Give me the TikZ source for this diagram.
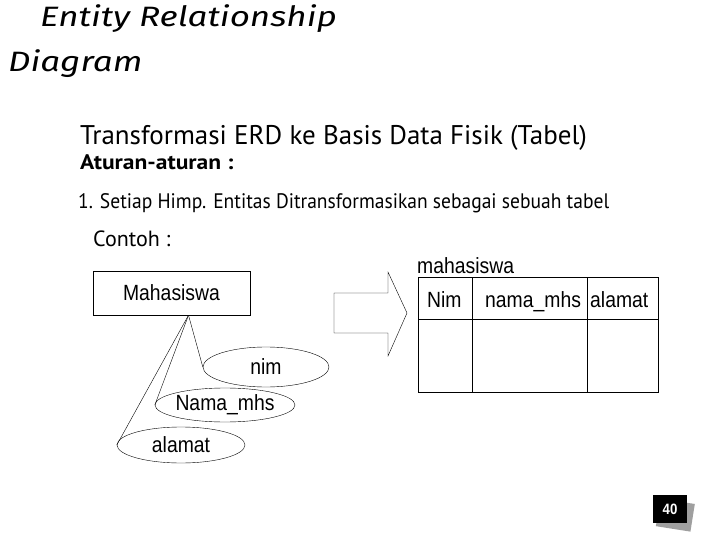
\documentclass[tikz,border=0pt]{standalone}
\usepackage{fontspec}
\setmainfont{PT Sans}
\newfontfamily\titlefont[FakeStretch=1.25]{Fira Sans}
\newfontfamily\labelfont[FakeStretch=0.88]{Liberation Sans}
\usetikzlibrary{shapes.geometric}

\begin{document}
\begin{tikzpicture}
    [x=1pt,y=-1pt,line join=miter,
     lbl/.style={inner sep=0pt,font=\labelfont\fontsize{22}{24}\selectfont},
     entity/.style={lbl,draw,minimum width=157pt,minimum height=44pt},
     attrib/.style={lbl,draw,ellipse,inner sep=0pt},
     txt/.style={inner sep=0pt,anchor=base west}]

    \useasboundingbox (0,0) rectangle (720,540);

    % title and text
    \node[txt,font=\titlefont\itshape\fontsize{28}{32}\selectfont] (t1) at (40,27) {Entity Relationship};
    \node[txt,font=\titlefont\itshape\fontsize{28}{32}\selectfont] (t2) at (8,72) {Diagram};
    \node[txt,font=\fontsize{27}{30}\selectfont] (sub) at (80,145) {Transformasi ERD ke Basis Data Fisik (Tabel)};
    \node[txt,font=\bfseries\addfontfeatures{FakeStretch=1.12}\fontsize{21}{23}\selectfont] (rules) at (80,170) {Aturan-aturan :};
    \node[txt,font=\addfontfeatures{FakeStretch=0.93}\fontsize{21}{24}\selectfont] (rule1) at (78,208) {1. Setiap Himp. Entitas Ditransformasikan sebagai sebuah tabel};
    \node[txt,font=\fontsize{22}{25}\selectfont] (ex) at (93,247) {Contoh :};

    % ER side
    \node[entity] (ent) at (171.5,293) {Mahasiswa};
    \node[attrib,minimum width=126pt,minimum height=40pt] (nim) at (266,367) {nim};
    \node[attrib,minimum width=120pt,minimum height=34pt] (nama) at (225,405) {Nama\_mhs};
    \node[attrib,minimum width=128pt,minimum height=36pt] (alamat) at (181,445) {alamat};
    \coordinate (root) at ([xshift=17pt]ent.south);
    \draw (root) -- (nim.west);
    \draw (root) -- (nama.west);
    \draw (root) -- (alamat.west);

    % block arrow
    \draw (334,293) -- (388,293) -- (388,272) -- (407,313) -- (388,356)
          -- (388,333) -- (334,333) -- cycle;

    % table
    \node[lbl,anchor=base west] (tname) at (417,273) {mahasiswa};
    \draw (418,277) rectangle (658,392);
    \draw (418,319) -- (658,319);
    \draw (472,277) -- (472,392);
    \draw (587,277) -- (587,392);
    \node[lbl,anchor=base west] (cnim) at (427,307) {Nim};
    \node[lbl,anchor=base west] (cnama) at (485,307) {nama\_mhs};
    \node[lbl,anchor=base west] (calamat) at (590,307) {alamat};

    % page number
    \fill[gray!75,rotate around={-9:(675,514)}] (658,501) rectangle (693,529);
    \node[fill=black,text=white,minimum width=34pt,minimum height=28pt,inner sep=0pt,
          font=\labelfont\bfseries\fontsize{15}{17}\selectfont] (page) at (670,509) {40};
\end{tikzpicture}
\end{document}
